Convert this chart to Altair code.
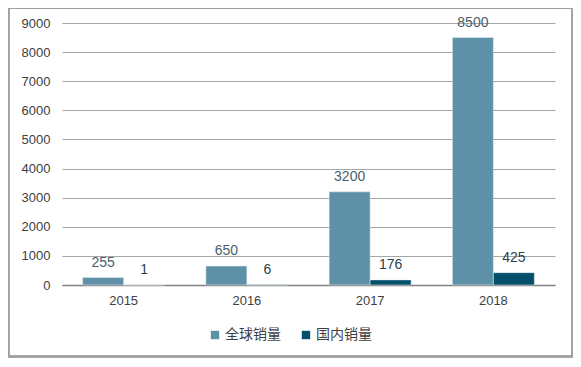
import altair as alt
import pandas as pd

years = ["2015", "2016", "2017", "2018"]
series = ["全球销量", "国内销量"]
global_sales = [255, 650, 3200, 8500]
domestic_sales = [1, 6, 176, 425]
y_ticks = [0, 1000, 2000, 3000, 4000, 5000, 6000, 7000, 8000, 9000]
colors = ["#5E91A7", "#03506B"]

rows = []
for i, y in enumerate(years):
    rows.append({"year": y, "series": series[0], "value": global_sales[i]})
    rows.append({"year": y, "series": series[1], "value": domestic_sales[i]})
df = pd.DataFrame(rows)

FONT = "Liberation Sans, Noto Sans CJK SC"
W, H = 493, 262

base = alt.Chart(df).encode(
    x=alt.X("year:N", sort=years, title=None,
            scale=alt.Scale(paddingInner=0.335, paddingOuter=0.1675),
            axis=alt.Axis(labelAngle=0, ticks=False, domain=True, domainColor="#808080",
                          domainWidth=1.5, labelPadding=9, labelFontSize=13,
                          labelColor="#404040", labelFont=FONT, grid=False)),
    xOffset=alt.XOffset("series:N", sort=series, scale=alt.Scale(paddingInner=0, paddingOuter=0)),
    y=alt.Y("value:Q", title=None,
            scale=alt.Scale(domain=[0, 9000], nice=False),
            axis=alt.Axis(values=y_ticks, format="d", ticks=False, domain=False,
                          gridColor="#A6A6A6", gridWidth=1, labelPadding=12, labelFontSize=13,
                          labelColor="#404040", labelFont=FONT)),
)

bars = base.mark_bar(stroke="#E8F0F4", strokeWidth=0.5).encode(
    color=alt.Color("series:N", sort=series,
                    scale=alt.Scale(domain=series, range=colors),
                    legend=alt.Legend(title=None, orient="none", direction="horizontal",
                                      legendX=146, legendY=305, symbolType="square",
                                      symbolSize=70, symbolStrokeWidth=0,
                                      labelFontSize=14, labelFont=FONT, labelColor="#404040",
                                      columnPadding=18, labelOffset=3)),
)

labels = base.mark_text(dy=-8, fontSize=14, font=FONT, baseline="bottom").encode(
    text=alt.Text("value:Q", format="d"),
    color=alt.Color("series:N", sort=series,
                    scale=alt.Scale(domain=series, range=["#4A5F6B", "#2A3F4B"]),
                    legend=None),
)

frame = alt.Chart(df).mark_rect(fill=None, stroke="#A0A0A0", strokeWidth=1.5).encode(
    x=alt.value(-53.5), x2=alt.value(W + 17.5),
    y=alt.value(-15), y2=alt.value(H + 71.5),
)

chart = alt.layer(frame, bars, labels).resolve_scale(color="independent").properties(
    width=W, height=H,
    autosize=alt.AutoSizeParams(type="none"),
    padding={"left": 54, "top": 15, "right": 18, "bottom": 73},
).configure_view(stroke=None)

chart.save("out.html", embed_options={"renderer": "svg", "actions": False})
